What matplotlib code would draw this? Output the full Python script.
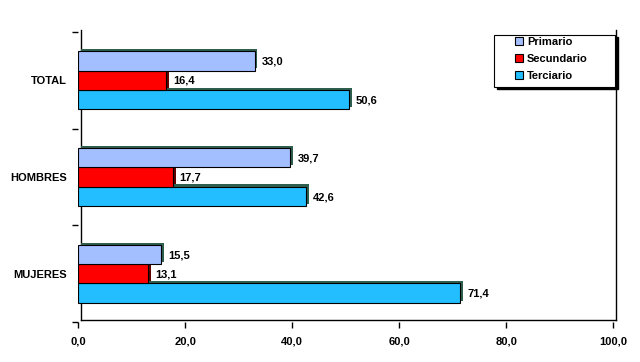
import matplotlib
matplotlib.use("Agg")
import matplotlib.pyplot as plt
import matplotlib.patheffects as pe
import matplotlib.transforms as mtransforms
from matplotlib.patches import Rectangle
import numpy as np

categories = ["TOTAL", "HOMBRES", "MUJERES"]
series = ["Primario", "Secundario", "Terciario"]
primario = [33.0, 39.7, 15.5]
secundario = [16.4, 17.7, 13.1]
terciario = [50.6, 42.6, 71.4]
xticks = [0, 20, 40, 60, 80, 100]
xticklabels = ["0,0", "20,0", "40,0", "60,0", "80,0", "100,0"]

colors = ["#A3BFFF", "#FF0000", "#22BEFF"]
shadow_cols = ["#2F5F4F", "#600000", "#2F5F4F"]
values = [primario, secundario, terciario]

plt.rcParams['font.family'] = ['Liberation Sans', 'DejaVu Sans']
W, H = 640, 362
fig = plt.figure(figsize=(W / 100, H / 100), dpi=100)
ax = fig.add_axes([0.122, 0.110, 0.836, 0.802])

n = len(categories)
centers = np.arange(n)[::-1].astype(float)  # TOTAL on top
h = 0.2
offs = [-h, 0, h]  # primario top
for si, (vals, col, sc) in enumerate(zip(values, colors, shadow_cols)):
    y = centers - offs[si]
    bars = ax.barh(y, vals, height=h, color=col, edgecolor="black", linewidth=0.8,
                   zorder=5 - si)
    for b in bars:
        b.set_path_effects([pe.SimplePatchShadow(offset=(2.0, 1.6), shadow_rgbFace=sc, alpha=1.0),
                            pe.Normal()])
    for yy, v in zip(y, vals):
        ax.annotate(f"{v:.1f}".replace(".", ","), xy=(v, yy), xytext=(5, -0.5),
                    textcoords="offset points", va="center", ha="left",
                    fontsize=8, fontweight="bold", zorder=6)

ax.set_xlim(0, 100)
ax.set_ylim(-0.5, n - 0.5)
for s in ax.spines.values():
    s.set_visible(False)

# wall lines, offset slightly up-right
off = mtransforms.ScaledTranslation(2.5 / 100, 2.0 / 100, fig.dpi_scale_trans)
tr = ax.transAxes + off
ax.plot([0, 0], [0, 1.0], color="black", lw=1.0, transform=tr, clip_on=False, zorder=1)
ax.plot([0, 1.0], [0, 0], color="black", lw=1.0, transform=tr, clip_on=False, zorder=1)
ax.plot([1.0, 1.0], [0, 1.0], color="black", lw=1.0, transform=tr, clip_on=False, zorder=1)

ax.set_xticks(xticks)
ax.set_xticklabels(xticklabels, fontsize=8, fontweight="bold")
ax.tick_params(axis="x", direction="out", length=4, width=1, pad=6)
ax.set_yticks(centers)
ax.set_yticklabels(categories, fontsize=8, fontweight="bold")
ax.tick_params(axis="y", which="major", length=0, pad=8)
ax.set_yticks(np.arange(-0.5, n, 1.0), minor=True)
ax.tick_params(axis="y", which="minor", direction="out", length=4, width=1)

# legend box with shadow (figure pixel layout)
bx0, by0, bw, bh = 494, 35, 121, 52
fig.add_artist(Rectangle(((bx0 + 3) / W, 1 - (by0 + bh + 2) / H), bw / W, bh / H,
                         transform=fig.transFigure, facecolor="black", edgecolor="black", zorder=9))
fig.add_artist(Rectangle((bx0 / W, 1 - (by0 + bh) / H), bw / W, bh / H,
                         transform=fig.transFigure, facecolor="white", edgecolor="black",
                         linewidth=0.8, zorder=9.5))

handles = [plt.Rectangle((0, 0), 1, 1, facecolor=c, edgecolor="black", linewidth=0.8) for c in colors]
leg = fig.legend(handles, series, loc="upper left", bbox_to_anchor=(515 / W, 1 - 37 / H),
                 bbox_transform=fig.transFigure, frameon=False,
                 handlelength=0.75, handleheight=0.75, handletextpad=0.35,
                 prop={'size': 8, 'weight': 'bold'}, borderpad=0, labelspacing=0.62,
                 borderaxespad=0)
leg.set_zorder(10)

fig.savefig("out.png", dpi=100)
